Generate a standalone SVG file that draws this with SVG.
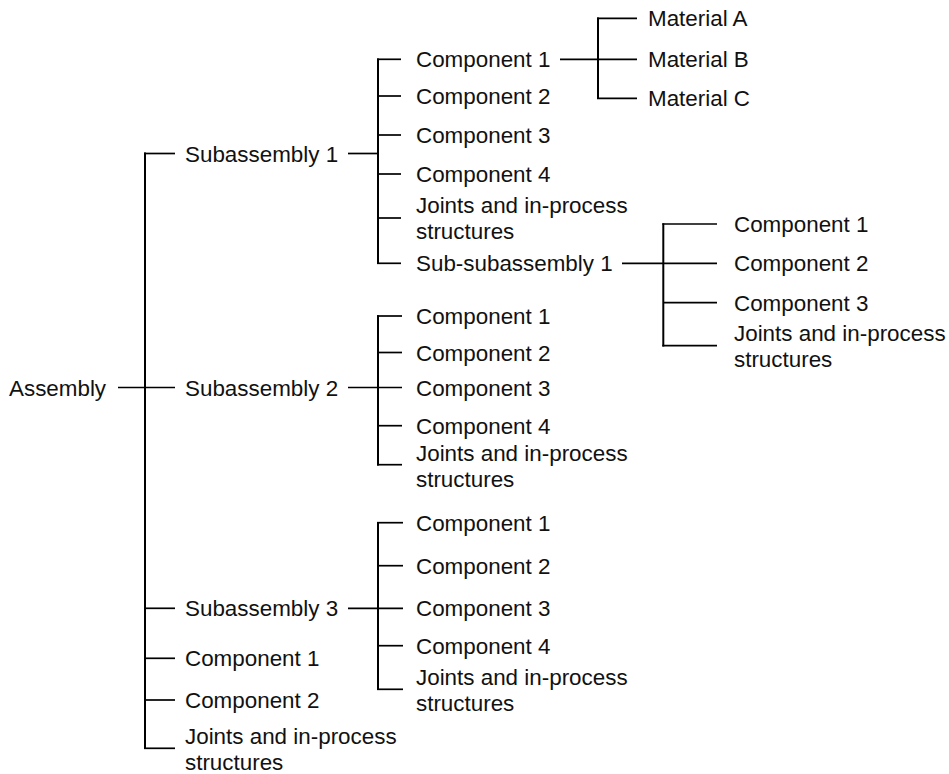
<svg xmlns="http://www.w3.org/2000/svg" width="949" height="774" viewBox="0 0 949 774">
  <style>
    text { font-family: "Liberation Sans", Arial, sans-serif; font-size: 22.4px; fill: #111; }
    .v { stroke: #000; stroke-width: 2; fill: none; }
    .h { stroke: #000; stroke-width: 1.7; fill: none; }
  </style>
  <rect width="949" height="774" fill="#fff"/>

  <!-- tree connectors -->
  <g id="connectors">
    <!-- assembly trunk -->
    <line class="v" x1="145" y1="152.5" x2="145" y2="749"/>
    <line class="h" x1="118" y1="387.5" x2="175" y2="387.5"/>
    <line class="h" x1="144" y1="153.5" x2="175" y2="153.5"/>
    <line class="h" x1="144" y1="608.3" x2="175" y2="608.3"/>
    <line class="h" x1="145" y1="658.3" x2="175" y2="658.3"/>
    <line class="h" x1="145" y1="700" x2="175" y2="700"/>
    <line class="h" x1="144" y1="748.3" x2="175" y2="748.3"/>

    <!-- subassembly 1 branch -->
    <line class="v" x1="378" y1="58.5" x2="378" y2="264"/>
    <line class="h" x1="348" y1="153.5" x2="378" y2="153.5"/>
    <line class="h" x1="377" y1="59.3" x2="401" y2="59.3"/>
    <line class="h" x1="378" y1="96" x2="401" y2="96"/>
    <line class="h" x1="378" y1="135" x2="401" y2="135"/>
    <line class="h" x1="378" y1="174" x2="401" y2="174"/>
    <line class="h" x1="378" y1="218" x2="401" y2="218"/>
    <line class="h" x1="377" y1="263.3" x2="401" y2="263.3"/>

    <!-- materials of component 1 -->
    <line class="v" x1="598" y1="17.5" x2="598" y2="99"/>
    <line class="h" x1="560" y1="59.3" x2="637" y2="59.3"/>
    <line class="h" x1="597" y1="18.3" x2="637" y2="18.3"/>
    <line class="h" x1="597" y1="98.3" x2="637" y2="98.3"/>

    <!-- sub-subassembly 1 branch -->
    <line class="v" x1="663.3" y1="223.3" x2="663.3" y2="346.5"/>
    <line class="h" x1="622" y1="263.3" x2="717" y2="263.3"/>
    <line class="h" x1="662.3" y1="224" x2="717" y2="224"/>
    <line class="h" x1="663.3" y1="302.7" x2="717" y2="302.7"/>
    <line class="h" x1="662.3" y1="345.7" x2="717" y2="345.7"/>

    <!-- subassembly 2 branch -->
    <line class="v" x1="378" y1="315.2" x2="378" y2="465.5"/>
    <line class="h" x1="348" y1="387.5" x2="402" y2="387.5"/>
    <line class="h" x1="377" y1="316" x2="402" y2="316"/>
    <line class="h" x1="378" y1="352.5" x2="402" y2="352.5"/>
    <line class="h" x1="378" y1="425.7" x2="402" y2="425.7"/>
    <line class="h" x1="377" y1="464.7" x2="402" y2="464.7"/>

    <!-- subassembly 3 branch -->
    <line class="v" x1="378" y1="521.9" x2="378" y2="690.1"/>
    <line class="h" x1="348" y1="608.3" x2="403" y2="608.3"/>
    <line class="h" x1="377" y1="522.7" x2="403" y2="522.7"/>
    <line class="h" x1="378" y1="565.7" x2="403" y2="565.7"/>
    <line class="h" x1="378" y1="645.7" x2="403" y2="645.7"/>
    <line class="h" x1="377" y1="689.3" x2="403" y2="689.3"/>
  </g>

  <!-- root -->
  <g id="assembly"><text x="9" y="395.5">Assembly</text></g>

  <!-- level 1 -->
  <g id="sub1"><text x="185" y="161.5">Subassembly 1</text></g>
  <g id="sub2"><text x="185" y="395.5">Subassembly 2</text></g>
  <g id="sub3"><text x="185" y="616.3">Subassembly 3</text></g>
  <g id="a-comp1"><text x="185" y="666.3">Component 1</text></g>
  <g id="a-comp2"><text x="185" y="708">Component 2</text></g>
  <g id="a-joints"><text x="185" y="743.5">Joints and in-process</text><text x="185" y="769.5">structures</text></g>

  <!-- subassembly 1 children -->
  <g id="s1-comp1"><text x="416" y="67.3">Component 1</text></g>
  <g id="s1-comp2"><text x="416" y="104">Component 2</text></g>
  <g id="s1-comp3"><text x="416" y="143">Component 3</text></g>
  <g id="s1-comp4"><text x="416" y="182">Component 4</text></g>
  <g id="s1-joints"><text x="416" y="213">Joints and in-process</text><text x="416" y="239">structures</text></g>
  <g id="s1-subsub1"><text x="416" y="271.3">Sub-subassembly 1</text></g>

  <!-- materials -->
  <g id="mat-a"><text x="648" y="26.3">Material A</text></g>
  <g id="mat-b"><text x="648" y="67.3">Material B</text></g>
  <g id="mat-c"><text x="648" y="106.3">Material C</text></g>

  <!-- sub-subassembly 1 children -->
  <g id="ss1-comp1"><text x="734" y="232">Component 1</text></g>
  <g id="ss1-comp2"><text x="734" y="271.3">Component 2</text></g>
  <g id="ss1-comp3"><text x="734" y="310.7">Component 3</text></g>
  <g id="ss1-joints"><text x="734" y="341">Joints and in-process</text><text x="734" y="367">structures</text></g>

  <!-- subassembly 2 children -->
  <g id="s2-comp1"><text x="416" y="324">Component 1</text></g>
  <g id="s2-comp2"><text x="416" y="360.5">Component 2</text></g>
  <g id="s2-comp3"><text x="416" y="395.5">Component 3</text></g>
  <g id="s2-comp4"><text x="416" y="433.7">Component 4</text></g>
  <g id="s2-joints"><text x="416" y="460.5">Joints and in-process</text><text x="416" y="486.5">structures</text></g>

  <!-- subassembly 3 children -->
  <g id="s3-comp1"><text x="416" y="530.7">Component 1</text></g>
  <g id="s3-comp2"><text x="416" y="573.7">Component 2</text></g>
  <g id="s3-comp3"><text x="416" y="616.3">Component 3</text></g>
  <g id="s3-comp4"><text x="416" y="653.7">Component 4</text></g>
  <g id="s3-joints"><text x="416" y="684.5">Joints and in-process</text><text x="416" y="710.5">structures</text></g>
</svg>
